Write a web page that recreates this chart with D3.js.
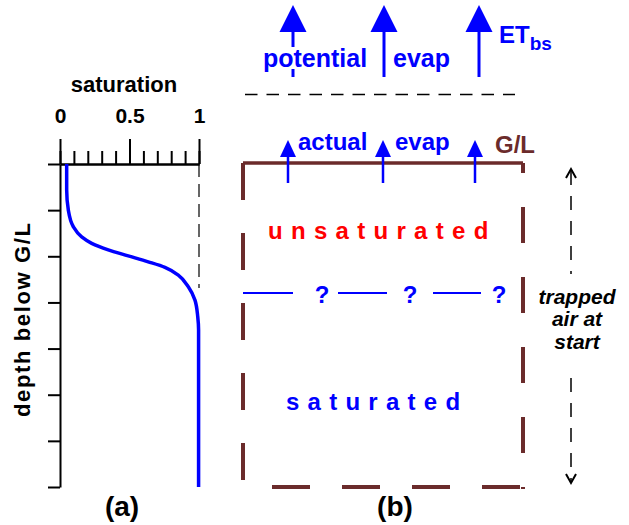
<!DOCTYPE html>
<html>
<head>
<meta charset="utf-8">
<script src="https://cdn.jsdelivr.net/npm/d3@7"></script>
<style>
  html, body { margin: 0; padding: 0; background: #fff; }
  svg { display: block; font-family: "Liberation Sans", Arial, sans-serif; }
</style>
</head>
<body>
<svg id="chart" width="629" height="525"></svg>
<script>
// ---------- data ----------
// saturation profile (panel a): depth in tick units below G/L, saturation 0..1
const profileDepth = [0, 0.56, 1.0, 1.36, 1.58, 1.72, 1.86, 1.99, 2.12, 2.24, 2.41, 2.66, 2.95, 3.31, 3.6, 7];
const profileSat   = [0.048, 0.048, 0.06, 0.096, 0.156, 0.228, 0.347, 0.491, 0.635, 0.755, 0.851, 0.923, 0.971, 0.991, 0.997, 0.997];
const satMinorTicks = [0, 0.1, 0.2, 0.3, 0.4, 0.5, 0.6, 0.7, 0.8, 0.9, 1];
const satMajorTicks = [0, 0.5, 1];
const satTickLabels = ["0", "0.5", "1"];
const depthTicks = [0, 1, 2, 3, 4, 5, 6, 7];
// panel b labels
const potentialLabels = ["potential", "evap"];
const actualLabels = ["actual", "evap"];
const unsatLabel = "unsaturated";
const satLabel = "saturated";
const trappedLines = ["trapped", "air at", "start"];
const arrowSlots = [0, 1, 2];     // three evaporation arrows
const questionSlots = [0, 1, 2];  // three "?" on the wetting front

// ---------- styles ----------
const BLUE = "#0000ff", RED = "#ff0000", BROWN = "#6b2b2b";
const svg = d3.select("#chart");

// ================= panel (a) =================
const x = d3.scaleLinear().domain([0, 1]).range([60, 199]);
const y = d3.scaleLinear().domain([0, 7]).range([164, 487]);

// dashed reference at saturation = 1
svg.append("line")
  .attr("x1", x(1)).attr("x2", x(1))
  .attr("y1", y(0)).attr("y2", 288)
  .attr("stroke", "#333").attr("stroke-width", 1.5)
  .attr("stroke-dasharray", "13,7");

const minorAxis = svg.append("g").attr("transform", `translate(0,${y(0)})`)
  .call(d3.axisTop(x).tickValues(satMinorTicks).tickSize(13).tickSizeOuter(0).tickFormat(""));
const majorAxis = svg.append("g").attr("transform", `translate(0,${y(0)})`)
  .call(d3.axisTop(x).tickValues(satMajorTicks).tickSize(25).tickSizeOuter(0).tickPadding(16)
    .tickFormat((d, i) => satTickLabels[i]));
const leftAxis = svg.append("g").attr("transform", `translate(${x(0)},0)`)
  .call(d3.axisLeft(y).tickValues(depthTicks).tickSize(12).tickSizeOuter(0).tickFormat(""));

[minorAxis, majorAxis, leftAxis].forEach(g => {
  g.selectAll("path.domain").attr("stroke", "#000").attr("stroke-width", 2);
  g.selectAll(".tick line").attr("stroke", "#000").attr("stroke-width", 2);
});
majorAxis.selectAll(".tick text")
  .attr("fill", "#000").style("font-size", "21px").style("font-weight", "bold")
  .style("font-family", "'Liberation Sans', Arial, sans-serif");

svg.append("text").attr("x", 124).attr("y", 92).attr("text-anchor", "middle")
  .style("font-size", "22px").style("font-weight", "bold").text("saturation");

svg.append("text")
  .attr("transform", "translate(30,320) rotate(-90)")
  .attr("text-anchor", "middle")
  .attr("textLength", 194).attr("lengthAdjust", "spacing")
  .style("font-size", "22px").style("font-weight", "bold").text("depth below G/L");

const profile = profileDepth.map((d, i) => [profileSat[i], d]);
svg.append("path").datum(profile)
  .attr("fill", "none").attr("stroke", BLUE).attr("stroke-width", 3.5)
  .attr("d", d3.line().x(d => x(d[0])).y(d => y(d[1])).curve(d3.curveMonotoneY));

svg.append("text").attr("x", 122).attr("y", 516).attr("text-anchor", "middle")
  .style("font-size", "28px").style("font-weight", "bold").text("(a)");

// ================= panel (b) =================
const L = 243, R = 523, T = 163, B = 487;

const bigArrowX = [293, 384, 479];
const smallArrowX = [288, 383, 475];

function arrow(g, cx, tip, base, end, halfW, sw) {
  g.append("line").attr("x1", cx).attr("x2", cx).attr("y1", base).attr("y2", end)
    .attr("stroke", BLUE).attr("stroke-width", sw);
  g.append("path").attr("d", `M${cx},${tip}L${cx - halfW},${base}L${cx + halfW},${base}Z`)
    .attr("fill", BLUE);
}
const gTop = svg.append("g");
arrowSlots.forEach(i => arrow(gTop, bigArrowX[i], 5, 32, 77, 13.5, 3));

// potential evap text (with white background to hide shaft)
const potText = svg.append("text").attr("x", 263).attr("y", 67)
  .attr("fill", BLUE).style("font-size", "25px").style("font-weight", "bold").text(potentialLabels[0]);
const bb = potText.node().getBBox();
svg.insert("rect", () => potText.node())
  .attr("x", bb.x).attr("y", 47).attr("width", bb.width).attr("height", 22).attr("fill", "#fff");
svg.append("text").attr("x", 393).attr("y", 67)
  .attr("fill", BLUE).style("font-size", "25px").style("font-weight", "bold").text(potentialLabels[1]);

const et = svg.append("text").attr("x", 499).attr("y", 43).attr("fill", BLUE)
  .style("font-weight", "bold").style("font-size", "24px");
et.append("tspan").text("ET");
et.append("tspan").attr("dy", 7).style("font-size", "19px").text("bs");

// dashed line (top of potential zone)
svg.append("line").attr("x1", 245).attr("x2", 515).attr("y1", 94.5).attr("y2", 94.5)
  .attr("stroke", "#000").attr("stroke-width", 1.5).attr("stroke-dasharray", "12.5,9");

// ground line and soil box
svg.append("line").attr("x1", L).attr("x2", R).attr("y1", T).attr("y2", T)
  .attr("stroke", BROWN).attr("stroke-width", 3.5);
svg.append("line").attr("x1", L).attr("x2", L).attr("y1", T).attr("y2", B)
  .attr("stroke", BROWN).attr("stroke-width", 4).attr("stroke-dasharray", "37,33");
svg.append("line").attr("x1", L).attr("x2", R).attr("y1", B).attr("y2", B)
  .attr("stroke", BROWN).attr("stroke-width", 4).attr("stroke-dasharray", "38,32").attr("stroke-dashoffset", 41);
svg.append("line").attr("x1", R).attr("x2", R).attr("y1", T).attr("y2", B + 2)
  .attr("stroke", BROWN).attr("stroke-width", 4).attr("stroke-dasharray", "36,34").attr("stroke-dashoffset", 26);

// actual evap arrows
const gAct = svg.append("g");
arrowSlots.forEach(i => arrow(gAct, smallArrowX[i], 140, 157, 183, 8, 2.5));
svg.append("text").attr("x", 298).attr("y", 150).attr("fill", BLUE)
  .style("font-size", "24px").style("font-weight", "bold").text(actualLabels[0]);
svg.append("text").attr("x", 395).attr("y", 150).attr("fill", BLUE)
  .style("font-size", "24px").style("font-weight", "bold").text(actualLabels[1]);
svg.append("text").attr("x", 495).attr("y", 153).attr("fill", BROWN)
  .style("font-size", "24px").style("font-weight", "bold").text("G/L");

// zone labels
svg.append("text").attr("x", 268).attr("y", 239).attr("fill", RED)
  .style("font-size", "24px").style("font-weight", "bold").style("letter-spacing", "8.3px").text(unsatLabel);
svg.append("text").attr("x", 286).attr("y", 410).attr("fill", BLUE)
  .style("font-size", "24px").style("font-weight", "bold").style("letter-spacing", "8.25px").text(satLabel);

// wetting front ? line
const frontSegs = [[243, 293], [338, 387], [433, 481]];
const qX = [322, 410, 499];
questionSlots.forEach(i => {
  svg.append("line").attr("x1", frontSegs[i][0]).attr("x2", frontSegs[i][1]).attr("y1", 293).attr("y2", 293)
    .attr("stroke", BLUE).attr("stroke-width", 2);
  svg.append("text").attr("x", qX[i]).attr("y", 303).attr("text-anchor", "middle").attr("fill", BLUE)
    .style("font-size", "24px").style("font-weight", "bold").text("?");
});

// trapped air annotation
const ax = 571;
svg.append("line").attr("x1", ax).attr("x2", ax).attr("y1", 171).attr("y2", 274)
  .attr("stroke", "#000").attr("stroke-width", 1.5).attr("stroke-dasharray", "14,11");
svg.append("line").attr("x1", ax).attr("x2", ax).attr("y1", 378).attr("y2", 481)
  .attr("stroke", "#000").attr("stroke-width", 1.5).attr("stroke-dasharray", "14,11");
svg.append("path").attr("d", `M${ax - 5},178L${ax},169L${ax + 5},178`)
  .attr("fill", "none").attr("stroke", "#000").attr("stroke-width", 2);
svg.append("path").attr("d", `M${ax - 5},474L${ax},483L${ax + 5},474`)
  .attr("fill", "none").attr("stroke", "#000").attr("stroke-width", 2);
const tBase = [304, 326, 349];
trappedLines.forEach((t, i) => {
  svg.append("text").attr("x", 577).attr("y", tBase[i]).attr("text-anchor", "middle")
    .style("font-size", "21px").style("font-weight", "bold").style("font-style", "italic").text(t);
});

svg.append("text").attr("x", 395).attr("y", 516).attr("text-anchor", "middle")
  .style("font-size", "28px").style("font-weight", "bold").text("(b)");
</script>
</body>
</html>
